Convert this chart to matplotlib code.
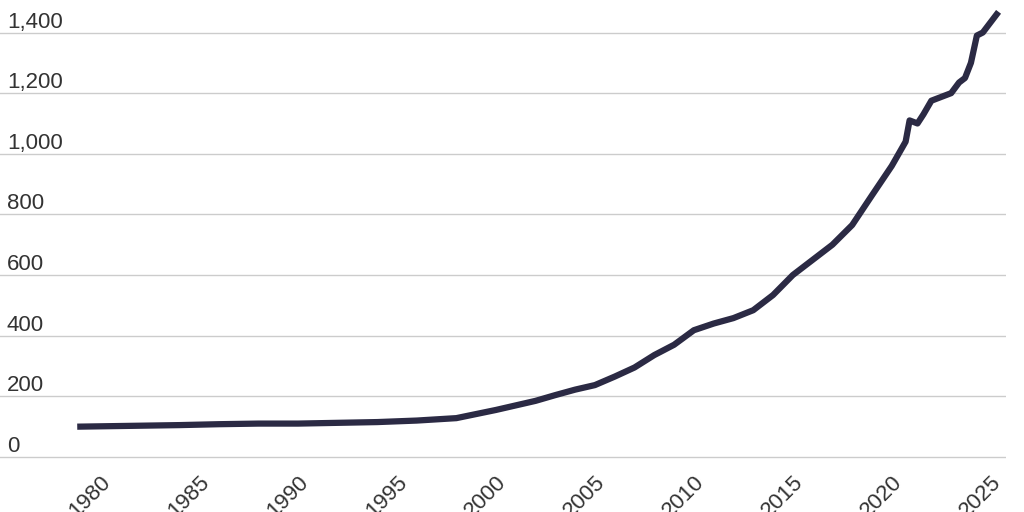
import matplotlib
matplotlib.use("Agg")
import matplotlib.pyplot as plt

years = [1979.0, 1984.0, 1986.0, 1988.0, 1990.0, 1994.0, 1996.0, 1998.0, 2000.0, 2001.0, 2002.0, 2003.0,
         2004.0, 2005.0, 2006.0, 2007.0, 2008.0, 2009.0, 2010.0, 2011.0, 2012.0, 2013.0, 2014.0,
         2015.0, 2016.0, 2017.0, 2018.0, 2019.0, 2020.0, 2020.7, 2020.9, 2021.3, 2021.6, 2022.0,
         2023.0, 2023.4, 2023.7, 2024.0, 2024.3, 2024.6, 2025.3]
values = [100, 105, 108, 110, 110, 115, 120, 128, 155, 170, 185, 204,
          222, 237, 265, 295, 336, 370, 418, 440, 458, 484, 534,
          600, 650, 700, 765, 863, 960, 1040, 1110, 1100, 1130, 1175,
          1200, 1235, 1250, 1300, 1390, 1400, 1460]
yticks = [0, 200, 400, 600, 800, 1000, 1200, 1400]
xticks = [1980, 1985, 1990, 1995, 2000, 2005, 2010, 2015, 2020, 2025]

plt.rcParams['font.family'] = ['Liberation Sans', 'DejaVu Sans']
fig = plt.figure(figsize=(10.24, 5.12), dpi=100)
ax = fig.add_axes([0.0, 0.0957, 0.982, 0.900])
ax.plot(years, values, color='#2b2a44', lw=4.5, solid_joinstyle='round')
ax.set_xlim(1974.94, 2025.75)
ax.set_ylim(-20, 1500)
ax.set_yticks(yticks)
ax.set_yticklabels([f"{v:,}" for v in yticks])
ax.set_xticks(xticks)
ax.set_xticklabels([str(x) for x in xticks], rotation=45, ha='right', rotation_mode='anchor')
ax.grid(axis='y', color='#cccccc', lw=1)
ax.set_axisbelow(True)
for s in ax.spines.values():
    s.set_visible(False)
ax.tick_params(axis='y', length=0, pad=-5, labelsize=16, colors='#333333')
for lab in ax.get_yticklabels():
    lab.set_horizontalalignment('left')
    lab.set_verticalalignment('bottom')
ax.tick_params(axis='x', length=0, labelsize=16, colors='#333333', pad=6)
fig.savefig("out.png")
